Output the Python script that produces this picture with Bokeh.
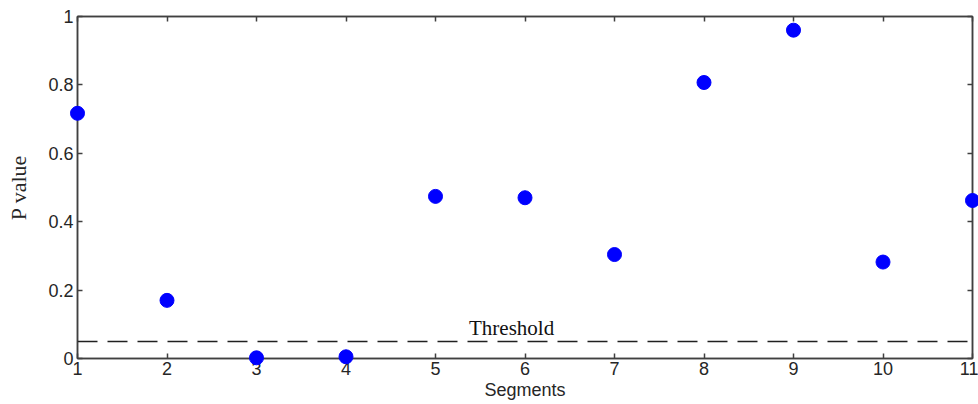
from bokeh.plotting import figure
from bokeh.models import Range1d, Span, Label, LinearAxis, FixedTicker, ColumnDataSource
from bokeh.embed import file_html
from bokeh.resources import INLINE

# ---- data ----
segments = [1, 2, 3, 4, 5, 6, 7, 8, 9, 10, 11]
p_values = [0.717, 0.170, 0.002, 0.005, 0.474, 0.470, 0.304, 0.807, 0.960, 0.282, 0.462]
threshold = 0.05
threshold_text = "Threshold"
threshold_label_x = 5.85
threshold_label_y = 0.088
x_ticks = [1, 2, 3, 4, 5, 6, 7, 8, 9, 10, 11]
y_ticks = [0, 0.2, 0.4, 0.6, 0.8, 1]
y_tick_labels = ["0", "0.2", "0.4", "0.6", "0.8", "1"]

AX = "#404040"
TXT = "#262626"

p = figure(width=978, height=404, output_backend="svg", toolbar_location=None,
           x_range=Range1d(1, 11), y_range=Range1d(0, 1),
           min_border_left=77, min_border_right=6, min_border_top=16, min_border_bottom=46,
           x_axis_label="Segments", y_axis_label="P value")
p.background_fill_color = "white"
p.border_fill_color = "white"
p.xgrid.visible = False
p.ygrid.visible = False
p.outline_line_color = AX
p.outline_line_width = 1.5

def style_axis(ax, ticks, show_labels=True):
    ax.ticker = FixedTicker(ticks=ticks)
    ax.major_tick_in = 5
    ax.major_tick_out = 0
    ax.minor_tick_in = 0
    ax.minor_tick_out = 0
    ax.axis_line_color = AX
    ax.axis_line_width = 1.5
    ax.major_tick_line_color = AX
    ax.major_tick_line_width = 1.5
    if show_labels:
        ax.major_label_text_font = "Liberation Sans"
        ax.major_label_text_font_size = "18px"
        ax.major_label_text_color = TXT
    else:
        ax.major_label_overrides = {t: "" for t in ticks}
        ax.major_label_text_font_size = "1px"
        ax.major_label_standoff = 0

xa = p.xaxis[0]
style_axis(xa, x_ticks)
xa.major_label_standoff = 3
xa.axis_label_standoff = 2
xa.axis_label_text_font = "Liberation Sans"
xa.axis_label_text_font_size = "18px"
xa.axis_label_text_font_style = "normal"
xa.axis_label_text_color = TXT

ya = p.yaxis[0]
style_axis(ya, y_ticks)
ya.major_label_overrides = {t: l for t, l in zip(y_ticks, y_tick_labels)}
ya.major_label_standoff = 4
ya.axis_label_standoff = 14
ya.axis_label_text_font = "Liberation Serif"
ya.axis_label_text_font_size = "22px"
ya.axis_label_text_font_style = "normal"
ya.axis_label_text_color = TXT

top = LinearAxis()
style_axis(top, x_ticks, show_labels=False)
p.add_layout(top, "above")
right = LinearAxis()
style_axis(right, y_ticks, show_labels=False)
p.add_layout(right, "right")

p.add_layout(Span(location=threshold, dimension="width", line_color="#202020",
                  line_width=1.5, line_dash="20 10"))
p.add_layout(Label(x=threshold_label_x, y=threshold_label_y, text=threshold_text,
                   text_font="Liberation Serif", text_font_size="21px",
                   text_color="#111111", text_align="center", text_baseline="alphabetic"))

src = ColumnDataSource(dict(x=segments, y=p_values))
p.scatter("x", "y", source=src, size=14, fill_color="#0000ff", line_color="#0000ff",
          level="overlay")

open("out.html", "w").write(file_html(p, INLINE))
